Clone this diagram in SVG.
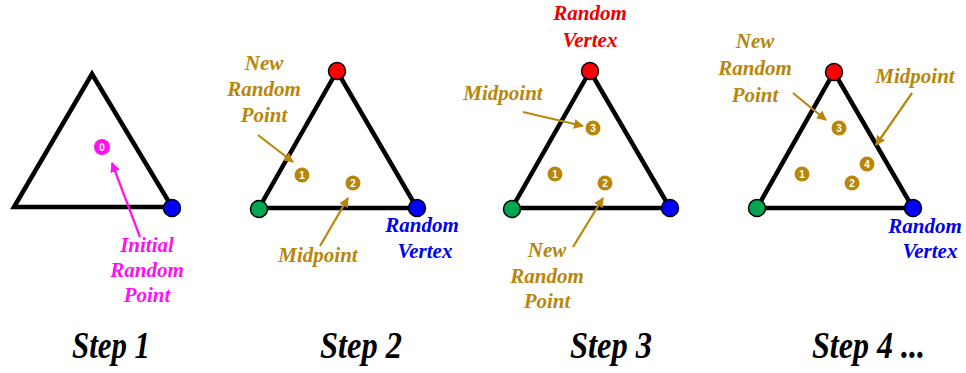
<svg xmlns="http://www.w3.org/2000/svg" width="966" height="373" viewBox="0 0 966 373">
<defs>
<style>
.tri{fill:none;stroke:#000;stroke-width:4.5;stroke-linejoin:miter}
.lbl{font-family:"Liberation Serif",serif;font-weight:bold;font-style:italic;font-size:21px;text-anchor:middle}
.gold{fill:#B8860B}
.mag{fill:#FF10F0}
.blu{fill:#0000EE}
.red{fill:#EE0000}
.step{font-family:"Liberation Serif",serif;font-weight:bold;font-style:italic;font-size:37px;fill:#000}
.pt{fill:#B8860B}
.num{font-family:"Liberation Sans",sans-serif;font-weight:bold;font-size:10px;fill:#fff;text-anchor:middle}
.vr{fill:#FF0000;stroke:#000;stroke-width:1.5}
.vb{fill:#0000FF;stroke:#000;stroke-width:1.5}
.vg{fill:#00A650;stroke:#000;stroke-width:1.5}
.ag{stroke:#B8860B;stroke-width:2.2;fill:none}
.am{stroke:#FF10F0;stroke-width:2.2;fill:none}
</style>
<marker id="hg" viewBox="0 0 10 10" refX="9" refY="5" markerWidth="4.5" markerHeight="4.5" orient="auto" markerUnits="strokeWidth"><path d="M0,0 L10,5 L0,10 z" fill="#B8860B"/></marker>
<marker id="hm" viewBox="0 0 10 10" refX="9" refY="5" markerWidth="4.5" markerHeight="4.5" orient="auto" markerUnits="strokeWidth"><path d="M0,0 L10,5 L0,10 z" fill="#FF10F0"/></marker>
</defs>
<rect width="966" height="373" fill="#fff"/>

<g id="step1">
<polygon class="tri" points="92,74 14,207 172,207"/>
<circle class="vb" cx="172" cy="208" r="8.5"/>
<circle cx="102" cy="147" r="8" fill="#FF10F0"/>
<text class="num" x="102" y="150.5">0</text>
</g>
<g id="step2">
<polygon class="tri" points="337,71 259,208 417,208"/>
<circle class="vr" cx="337" cy="71" r="8.5"/>
<circle class="vg" cx="259" cy="209" r="8.5"/>
<circle class="vb" cx="417" cy="208" r="8.5"/>
<circle class="pt" cx="302" cy="175" r="7.5"/><text class="num" x="302" y="178.5">1</text>
<circle class="pt" cx="353" cy="183" r="7.5"/><text class="num" x="353" y="186.5">2</text>
</g>
<g id="step3">
<polygon class="tri" points="590,71 512,208 670,208"/>
<circle class="vr" cx="590" cy="71" r="8.5"/>
<circle class="vg" cx="512" cy="209" r="8.5"/>
<circle class="vb" cx="670" cy="208" r="8.5"/>
<circle class="pt" cx="593" cy="128" r="7.5"/><text class="num" x="593" y="131.5">3</text>
<circle class="pt" cx="555" cy="174" r="7.5"/><text class="num" x="555" y="177.5">1</text>
<circle class="pt" cx="605" cy="183" r="7.5"/><text class="num" x="605" y="186.5">2</text>
</g>
<g id="step4">
<polygon class="tri" points="834,72 757,208 913,208"/>
<circle class="vr" cx="834" cy="72" r="8.5"/>
<circle class="vg" cx="757" cy="208" r="8.5"/>
<circle class="vb" cx="913" cy="208" r="8.5"/>
<circle class="pt" cx="839" cy="128" r="7.5"/><text class="num" x="839" y="131.5">3</text>
<circle class="pt" cx="867" cy="164" r="7.5"/><text class="num" x="867" y="167.5">4</text>
<circle class="pt" cx="802" cy="174" r="7.5"/><text class="num" x="802" y="177.5">1</text>
<circle class="pt" cx="852" cy="183" r="7.5"/><text class="num" x="852" y="186.5">2</text>
</g>

<g id="connectors">
<line class="am" x1="140" y1="237" x2="112" y2="163" marker-end="url(#hm)"/>
<line class="ag" x1="258" y1="135" x2="293" y2="162" marker-end="url(#hg)"/>
<line class="ag" x1="320" y1="246" x2="348" y2="198" marker-end="url(#hg)"/>
<line class="ag" x1="523" y1="112" x2="583" y2="126" marker-end="url(#hg)"/>
<line class="ag" x1="573" y1="247" x2="603" y2="198" marker-end="url(#hg)"/>
<line class="ag" x1="793" y1="93" x2="826" y2="120" marker-end="url(#hg)"/>
<line class="ag" x1="912" y1="93" x2="876" y2="145" marker-end="url(#hg)"/>
</g>

<g id="labels">
<text class="lbl mag" x="147" y="252">Initial</text>
<text class="lbl mag" x="147" y="277">Random</text>
<text class="lbl mag" x="147" y="302">Point</text>

<text class="lbl gold" x="264" y="70">New</text>
<text class="lbl gold" x="264" y="96">Random</text>
<text class="lbl gold" x="264" y="122">Point</text>
<text class="lbl gold" x="318" y="262">Midpoint</text>
<text class="lbl blu" x="422" y="232">Random</text>
<text class="lbl blu" x="425" y="258">Vertex</text>

<text class="lbl red" x="590" y="20">Random</text>
<text class="lbl red" x="590" y="47">Vertex</text>
<text class="lbl gold" x="503" y="100">Midpoint</text>
<text class="lbl gold" x="547" y="257">New</text>
<text class="lbl gold" x="547" y="283">Random</text>
<text class="lbl gold" x="547" y="308">Point</text>

<text class="lbl gold" x="755" y="48">New</text>
<text class="lbl gold" x="755" y="75">Random</text>
<text class="lbl gold" x="755" y="102">Point</text>
<text class="lbl gold" x="915" y="83">Midpoint</text>
<text class="lbl blu" x="925" y="233">Random</text>
<text class="lbl blu" x="930" y="258">Vertex</text>

<text class="step" x="72" y="358" textLength="78" lengthAdjust="spacingAndGlyphs">Step 1</text>
<text class="step" x="320" y="358" textLength="82" lengthAdjust="spacingAndGlyphs">Step 2</text>
<text class="step" x="570" y="358" textLength="82" lengthAdjust="spacingAndGlyphs">Step 3</text>
<text class="step" x="812" y="358" textLength="113" lengthAdjust="spacingAndGlyphs">Step 4 ...</text>
</g>
</svg>
